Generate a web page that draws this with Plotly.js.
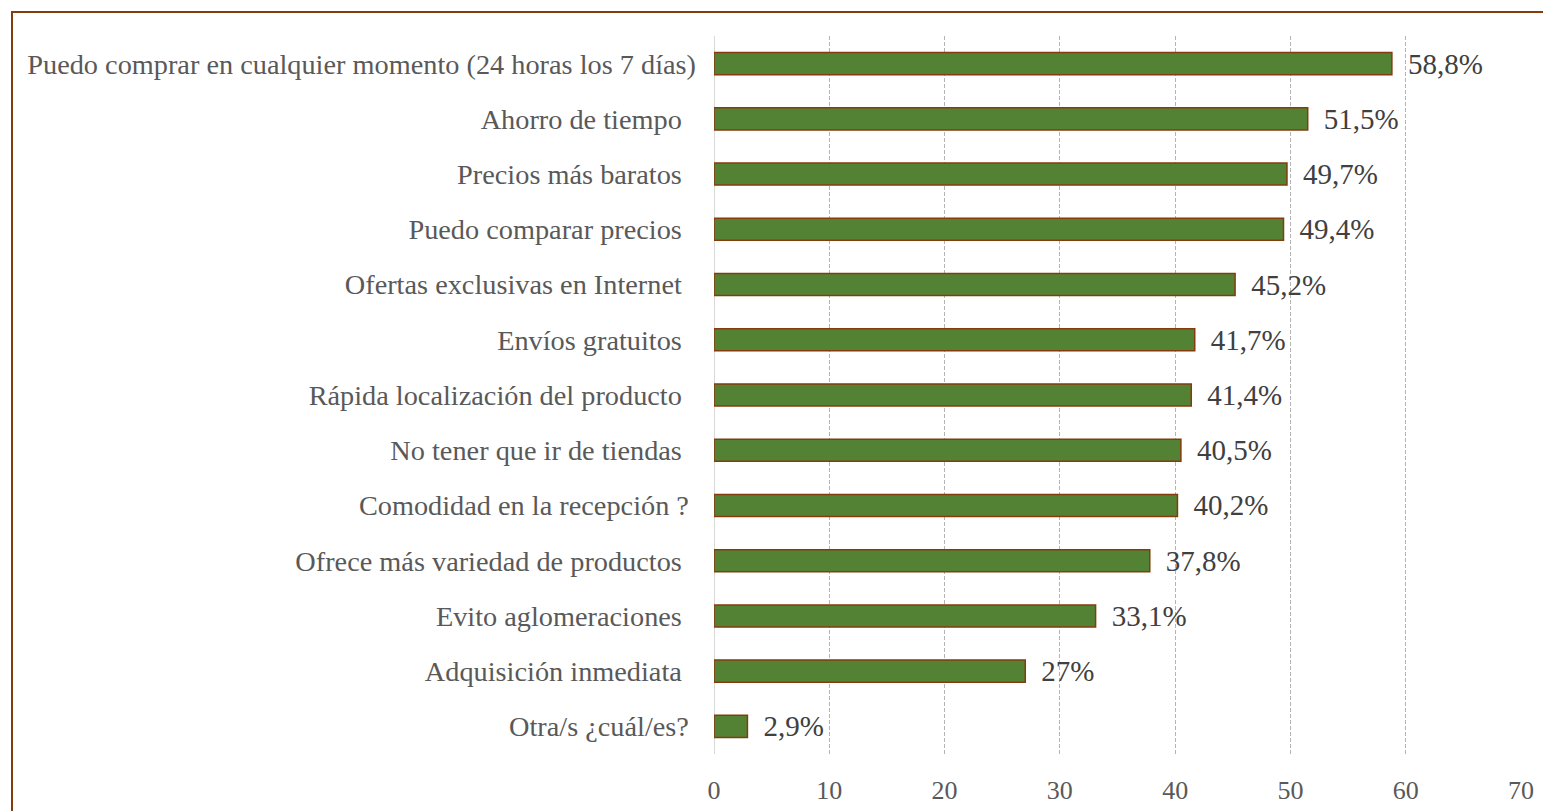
<!DOCTYPE html>
<html>
<head>
<meta charset="utf-8">
<script src="https://cdn.plot.ly/plotly-3.0.1.min.js"></script>
<style>html,body{margin:0;padding:0;background:#fff;overflow:hidden}#chart{width:1543px;height:811px}</style>
</head>
<body>
<div id="chart"></div>
<script>
const categories = [
  "Puedo comprar en cualquier momento (24 horas los 7 días)",
  "Ahorro de tiempo\u00a0\u00a0",
  "Precios más baratos\u00a0\u00a0",
  "Puedo comparar precios\u00a0\u00a0",
  "Ofertas exclusivas en Internet\u00a0\u00a0",
  "Envíos gratuitos\u00a0\u00a0",
  "Rápida localización del producto\u00a0\u00a0",
  "No tener que ir de tiendas\u00a0\u00a0",
  "Comodidad en la recepción ?\u00a0",
  "Ofrece más variedad de productos\u00a0\u00a0",
  "Evito aglomeraciones\u00a0\u00a0",
  "Adquisición inmediata\u00a0\u00a0",
  "Otra/s ¿cuál/es?\u00a0"
];
const values = [58.8, 51.5, 49.7, 49.4, 45.2, 41.7, 41.4, 40.5, 40.2, 37.8, 33.1, 27, 2.9];
const xTicks = [0, 10, 20, 30, 40, 50, 60, 70];

function fmt(v) {
  let s = (Math.round(v * 10) / 10).toString().replace('.', ',');
  return '\u00a0\u2009' + s + '%';
}

const L = 714, R = 1521, T = 36, B = 754, W = 1543, H = 811;
const pw = R - L, ph = B - T;
function px2x(p) { return (p - L) / pw; }
function py2y(p) { return (B - p) / ph; }

const serif = 'Liberation Serif, Times New Roman, serif';

const trace = {
  type: 'bar',
  orientation: 'h',
  y: categories,
  x: values,
  text: values.map(fmt),
  textposition: 'outside',
  constraintext: 'none',
  cliponaxis: false,
  textfont: {family: serif, size: 29, color: '#404040'},
  marker: {color: '#548235', line: {color: '#843C0C', width: 1.5}},
  hoverinfo: 'none'
};

const layout = {
  width: W, height: H,
  margin: {l: L, r: W - R, t: T, b: H - B, pad: 0},
  paper_bgcolor: '#ffffff',
  plot_bgcolor: '#ffffff',
  bargap: 0.6,
  showlegend: false,
  font: {family: serif, size: 28, color: '#595959'},
  xaxis: {
    range: [0, 70],
    tickvals: xTicks,
    ticktext: xTicks.map(String),
    showgrid: true,
    gridcolor: '#b4b4b4',
    griddash: '4px,2px',
    gridwidth: 1,
    zeroline: false,
    showline: false,
    ticks: '',
    ticklabelstandoff: 18,
    tickfont: {family: serif, size: 26, color: '#595959'},
    fixedrange: true
  },
  yaxis: {
    autorange: 'reversed',
    type: 'category',
    showgrid: false,
    zeroline: false,
    showline: false,
    ticks: '',
    ticklabelstandoff: 17,
    tickfont: {family: serif, size: 28.3, color: '#595959'},
    fixedrange: true
  },
  shapes: [
    {type: 'line', xref: 'x', yref: 'paper', x0: 0, x1: 0, y0: 0, y1: 1,
     line: {color: '#d9d9d9', width: 2}, layer: 'below'},
    {type: 'rect', xref: 'paper', yref: 'paper',
     x0: px2x(12), x1: px2x(1600), y0: py2y(12), y1: py2y(880),
     line: {color: '#843C0C', width: 2}, fillcolor: 'rgba(0,0,0,0)', layer: 'above'}
  ]
};

Plotly.newPlot('chart', [trace], layout, {displayModeBar: false, staticPlot: true});
</script>
</body>
</html>
